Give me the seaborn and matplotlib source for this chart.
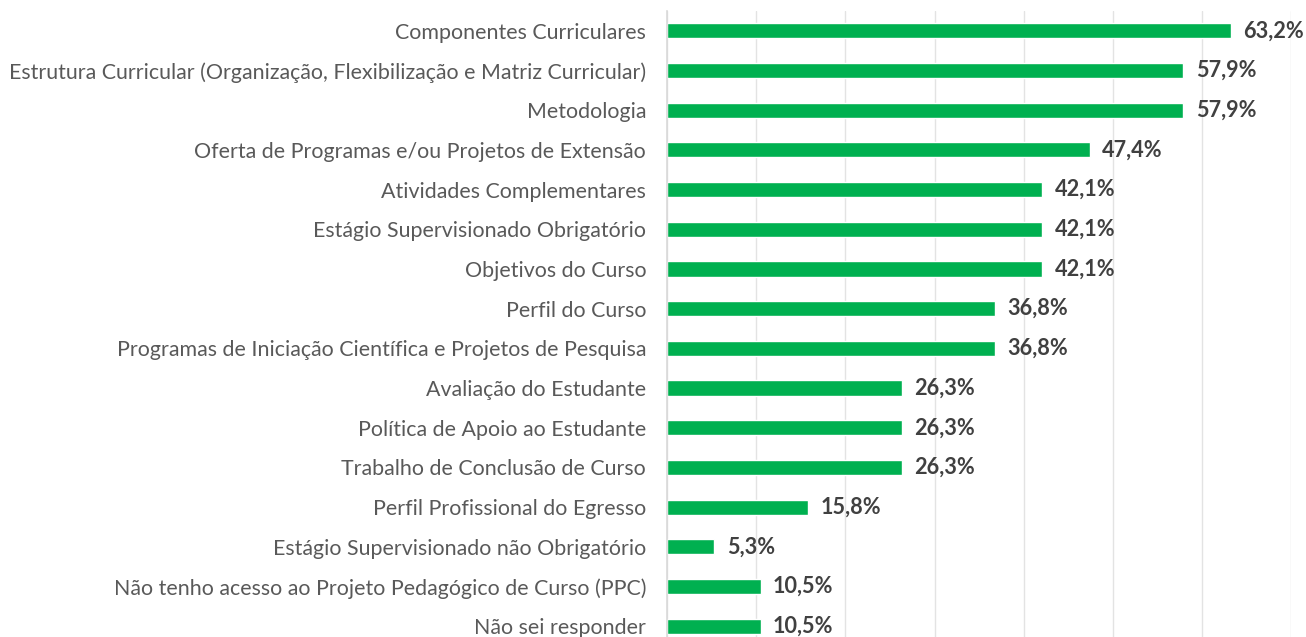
#!/usr/bin/env python3
"""Horizontal bar chart: PPC aspects known by respondents (percent)."""

import matplotlib
matplotlib.use("Agg")
import matplotlib.pyplot as plt
import pandas as pd
import seaborn as sns

CATEGORIES = [
    "Componentes Curriculares",
    "Estrutura Curricular (Organização, Flexibilização e Matriz Curricular)",
    "Metodologia",
    "Oferta de Programas e/ou Projetos de Extensão",
    "Atividades Complementares",
    "Estágio Supervisionado Obrigatório",
    "Objetivos do Curso",
    "Perfil do Curso",
    "Programas de Iniciação Científica e Projetos de Pesquisa",
    "Avaliação do Estudante",
    "Política de Apoio ao Estudante",
    "Trabalho de Conclusão de Curso",
    "Perfil Profissional do Egresso",
    "Estágio Supervisionado não Obrigatório",
    "Não tenho acesso ao Projeto Pedagógico de Curso (PPC)",
    "Não sei responder",
]
PERCENTS = [63.2, 57.9, 57.9, 47.4, 42.1, 42.1, 42.1, 36.8, 36.8,
            26.3, 26.3, 26.3, 15.8, 5.3, 10.5, 10.5]
X_TICKS = [0, 10, 20, 30, 40, 50, 60, 70]

BAR_COLOR = "#00B050"
GRID_COLOR = "#E3E3E3"

sns.set_theme(style="white")
plt.rcParams["font.family"] = ["Lato", "DejaVu Sans"]

df = pd.DataFrame({"categoria": CATEGORIES, "pct": PERCENTS})

fig = plt.figure(figsize=(13.06, 6.37), dpi=100)
ax = fig.add_axes([0.5107, -0.0141, 0.478, 0.9968])

sns.barplot(data=df, x="pct", y="categoria", orient="h", color=BAR_COLOR,
            saturation=1, width=0.38, ax=ax)

ax.set_xlim(0, 70)
ax.set_xticks(X_TICKS)
ax.set_xticklabels([])
ax.tick_params(axis="x", length=0)
ax.tick_params(axis="y", length=0, pad=15, labelsize=15.4, labelcolor="#595959")
ax.xaxis.grid(True, color=GRID_COLOR, lw=1.0)
ax.set_axisbelow(True)
for side in ("top", "right", "bottom"):
    ax.spines[side].set_visible(False)
ax.spines["left"].set_color("#D9D9D9")
ax.spines["left"].set_linewidth(1.2)
ax.set_xlabel("")
ax.set_ylabel("")

for i, v in enumerate(PERCENTS):
    ax.text(v + 1.4, i, f"{v:.1f}%".replace(".", ","), va="center", ha="left",
            fontsize=15.6, fontweight="bold", color="#404040", clip_on=False)

fig.savefig("out.png", dpi=100)
